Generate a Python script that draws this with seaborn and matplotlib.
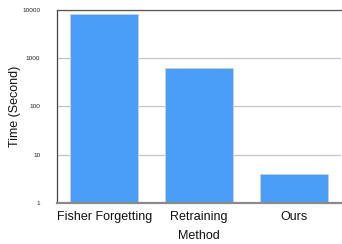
import matplotlib
matplotlib.use("Agg")
import matplotlib.pyplot as plt
import matplotlib.ticker as mticker
import pandas as pd
import seaborn as sns

methods = ["Fisher Forgetting", "Retraining", "Ours"]
times = [8100, 620, 3.9]
y_ticks = [1, 10, 100, 1000, 10000]
y_tick_labels = ["1", "10", "100", "1000", "10000"]

BAR_COLOR = "#4a9ef7"

sns.set_theme(style="white")
plt.rcParams["font.family"] = ["Liberation Sans", "DejaVu Sans"]

df = pd.DataFrame({"Method": methods, "Time": times})

fig = plt.figure(figsize=(3.42, 2.44), dpi=100)
ax = fig.add_axes([57 / 342, 41 / 244, 284 / 342, 193 / 244])

ax.set_yscale("log")
sns.barplot(data=df, x="Method", y="Time", color=BAR_COLOR, width=0.72,
            edgecolor="#cfcfcf", linewidth=0.6, saturation=1, ax=ax, zorder=3)

ax.set_ylim(1, 10000)
ax.set_xlim(-0.5, 2.5)
ax.yaxis.set_major_locator(mticker.FixedLocator(y_ticks))
ax.yaxis.set_major_formatter(mticker.FixedFormatter(y_tick_labels))
ax.yaxis.set_minor_locator(mticker.NullLocator())
ax.grid(axis="y", color="#c4c4c4", linewidth=0.9, zorder=0)
ax.set_axisbelow(True)

ax.tick_params(axis="y", length=0, pad=12, labelsize=4.6, labelcolor="#222222")
ax.tick_params(axis="x", length=0, pad=6, labelsize=9, labelcolor="#111111")

ax.set_ylabel("Time (Second)", fontsize=9, color="#111111")
ax.yaxis.set_label_coords(-0.128, 0.5)
ax.set_xlabel("Method", fontsize=9, labelpad=5, color="#111111")

ax.spines["right"].set_visible(False)
ax.spines["top"].set_color("#555555")
ax.spines["top"].set_linewidth(0.9)
ax.spines["left"].set_color("#444444")
ax.spines["left"].set_linewidth(0.9)
ax.spines["bottom"].set_color("#8a8a8a")
ax.spines["bottom"].set_linewidth(1.6)
ax.spines["bottom"].set_zorder(4)

fig.savefig("out.png", dpi=100, facecolor="white")
